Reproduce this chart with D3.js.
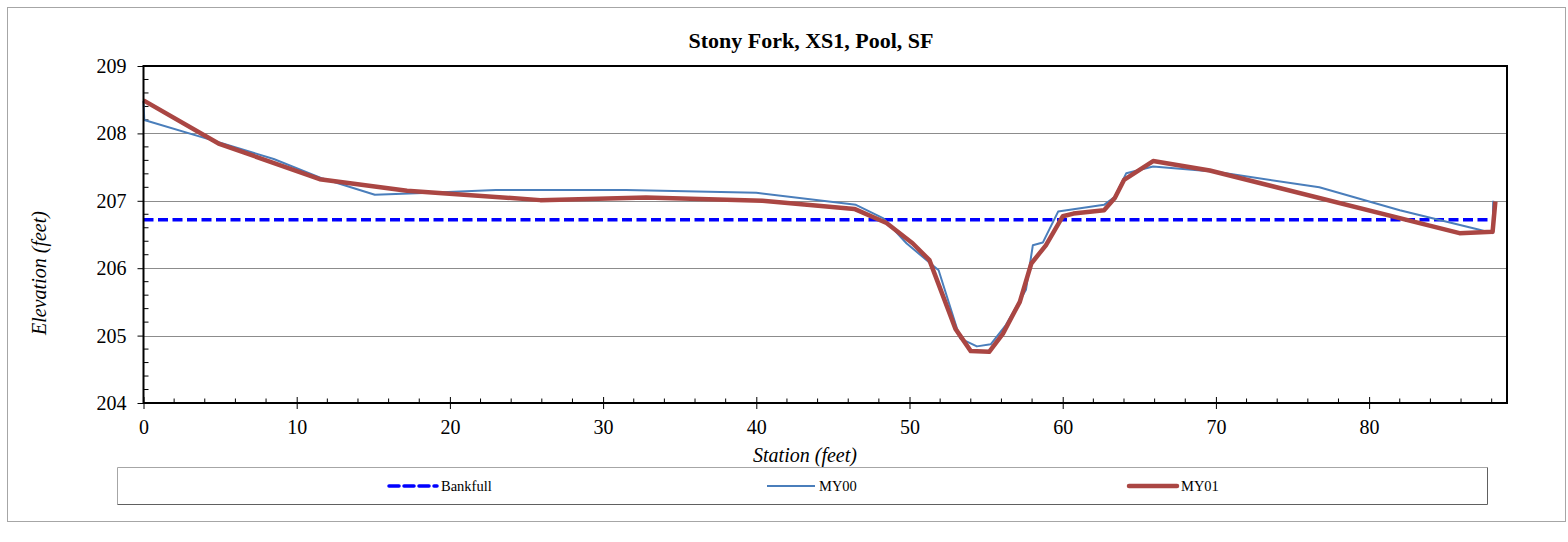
<!DOCTYPE html>
<html>
<head>
<meta charset="utf-8">
<script src="https://cdn.jsdelivr.net/npm/d3@7"></script>
<style>
  body { margin: 0; background: #fff; }
  svg { display: block; font-family: "Liberation Serif", "Times New Roman", serif; }
</style>
</head>
<body>
<div id="chart"></div>
<script>
// ---------- data ----------
const chartTitle = 'Stony Fork, XS1, Pool, SF';

const bankfullStation = [0, 88];
const bankfullElev    = [206.72, 206.72];

const my00Station = [0, 0.05, 4.9, 8.5, 11.7, 15.1, 18.7, 23.0, 31.5, 40.0, 46.5, 48.3, 49.8, 51.9,
  53.3, 54.4, 55.3, 56.3, 57.6, 58.05, 58.7, 59.7, 62.7, 63.4, 64.15, 65.9, 70.0, 76.75, 82.0,
  87.2, 88.06, 88.1];
const my00Elev = [208.48, 208.2, 207.87, 207.62, 207.33, 207.09, 207.12, 207.16, 207.16, 207.12,
  206.94, 206.74, 206.37, 205.97, 204.96, 204.84, 204.87, 205.16, 205.68, 206.34, 206.38, 206.84,
  206.94, 207.06, 207.41, 207.51, 207.43, 207.2, 206.86, 206.57, 206.52, 207.0];

const my01Station = [0, 4.9, 11.5, 17.2, 25.9, 32.8, 40.4, 46.4, 48.5, 50.2, 51.3, 53.0, 54.0, 55.2,
  56.1, 57.2, 57.95, 58.9, 60.0, 60.7, 62.7, 63.4, 64.0, 65.9, 69.6, 85.9, 88.06, 88.24];
const my01Elev = [208.49, 207.85, 207.32, 207.15, 207.01, 207.05, 207.0, 206.88, 206.67, 206.37,
  206.12, 205.1, 204.77, 204.76, 205.03, 205.5, 206.07, 206.34, 206.77, 206.81, 206.86, 207.04,
  207.31, 207.59, 207.45, 206.52, 206.54, 206.99];

const xTicks = [0, 10, 20, 30, 40, 50, 60, 70, 80];
const yTicks = [204, 205, 206, 207, 208, 209];
const legendNames = ['Bankfull', 'MY00', 'MY01'];

// ---------- layout ----------
const W = 1568, H = 542;
const plot = { left: 143.5, right: 1507, top: 66, bottom: 403 };

const x = d3.scaleLinear().domain([0, 89]).range([plot.left, plot.right]);
const y = d3.scaleLinear().domain([204, 209]).range([plot.bottom, plot.top]);

const styles = {
  Bankfull: { stroke: '#0000ff', width: 3.5, dash: '10,4.5' },
  MY00:     { stroke: '#4a7ebb', width: 2,   dash: null },
  MY01:     { stroke: '#aa4643', width: 4.5, dash: null }
};

const svg = d3.select('#chart').append('svg')
  .attr('width', W)
  .attr('height', H);

// outer chart border
svg.append('rect')
  .attr('x', 7.5).attr('y', 7.5)
  .attr('width', 1558).attr('height', 514)
  .attr('fill', '#fff')
  .attr('stroke', '#a6a6a6');

// title
svg.append('text')
  .attr('x', 811).attr('y', 48)
  .attr('text-anchor', 'middle')
  .attr('font-size', '22px')
  .attr('font-weight', 'bold')
  .text(chartTitle);

// horizontal gridlines
svg.append('g')
  .selectAll('line')
  .data(yTicks.filter(d => d > 204 && d < 209))
  .join('line')
  .attr('x1', plot.left).attr('x2', plot.right)
  .attr('y1', d => Math.round(y(d)) + 0.5).attr('y2', d => Math.round(y(d)) + 0.5)
  .attr('stroke', '#8c8c8c')
  .attr('stroke-width', 1);

// y axis
const yAxis = svg.append('g')
  .attr('transform', `translate(${plot.left},0)`)
  .call(d3.axisLeft(y).tickValues(yTicks).tickSize(6).tickPadding(11).tickFormat(d3.format('d')));
yAxis.select('.domain').remove();
yAxis.selectAll('line').attr('stroke', '#000');
yAxis.selectAll('text')
  .attr('font-size', '20px')
  .attr('font-family', '"Liberation Serif", "Times New Roman", serif')
  .attr('fill', '#000');

// y minor ticks (inside)
const yMinor = d3.range(204.2, 209, 0.2).filter(v => Math.abs(v - Math.round(v)) > 0.01);
svg.append('g')
  .selectAll('line')
  .data(yMinor)
  .join('line')
  .attr('x1', plot.left).attr('x2', plot.left + 5)
  .attr('y1', d => y(d)).attr('y2', d => y(d))
  .attr('stroke', '#000');

// x axis
const xAxis = svg.append('g')
  .attr('transform', `translate(0,${plot.bottom})`)
  .call(d3.axisBottom(x).tickValues(xTicks).tickSize(6).tickFormat(d3.format('d')));
xAxis.select('.domain').remove();
xAxis.selectAll('line').attr('y1', -6).attr('y2', 6).attr('stroke', '#000');
xAxis.selectAll('text')
  .attr('y', 31).attr('dy', 0)
  .attr('font-size', '20px')
  .attr('font-family', '"Liberation Serif", "Times New Roman", serif')
  .attr('fill', '#000');

// x minor ticks (inside)
const xMinor = d3.range(2, 89, 2).filter(v => v % 10 !== 0);
svg.append('g')
  .selectAll('line')
  .data(xMinor)
  .join('line')
  .attr('x1', d => x(d)).attr('x2', d => x(d))
  .attr('y1', plot.bottom).attr('y2', plot.bottom - 4.5)
  .attr('stroke', '#000');

// axis titles
svg.append('text')
  .attr('x', 805).attr('y', 462)
  .attr('text-anchor', 'middle')
  .attr('font-size', '20px')
  .attr('font-style', 'italic')
  .text('Station (feet)');

svg.append('text')
  .attr('transform', 'translate(46,273) rotate(-90)')
  .attr('text-anchor', 'middle')
  .attr('font-size', '20px')
  .attr('font-style', 'italic')
  .text('Elevation (feet)');

// series
const line = d3.line().x(d => x(d[0])).y(d => y(d[1]));
const series = [
  { name: 'Bankfull', pts: d3.zip(bankfullStation, bankfullElev) },
  { name: 'MY00', pts: d3.zip(my00Station, my00Elev) },
  { name: 'MY01', pts: d3.zip(my01Station, my01Elev) }
];

svg.append('g')
  .selectAll('path')
  .data(series)
  .join('path')
  .attr('d', d => line(d.pts))
  .attr('fill', 'none')
  .attr('stroke', d => styles[d.name].stroke)
  .attr('stroke-width', d => styles[d.name].width)
  .attr('stroke-dasharray', d => styles[d.name].dash)
  .attr('stroke-linejoin', 'round');

// plot frame
svg.append('rect')
  .attr('x', plot.left).attr('y', plot.top)
  .attr('width', plot.right - plot.left).attr('height', plot.bottom - plot.top)
  .attr('fill', 'none')
  .attr('stroke', '#000')
  .attr('stroke-width', 2);

// legend box
const lg = { left: 117.5, top: 467.5, right: 1487.5, bottom: 504.5 };
svg.append('path')
  .attr('d', `M${lg.left},${lg.bottom}V${lg.top}H${lg.right}`)
  .attr('fill', 'none').attr('stroke', '#a6a6a6');
svg.append('path')
  .attr('d', `M${lg.right},${lg.top}V${lg.bottom}H${lg.left}`)
  .attr('fill', 'none').attr('stroke', '#606060');

const legendX = [389, 767, 1129];
const legend = svg.append('g')
  .selectAll('g')
  .data(legendNames)
  .join('g')
  .attr('transform', (d, i) => `translate(${legendX[i]},486)`);

legend.append('line')
  .attr('x1', 0).attr('x2', 48)
  .attr('stroke', d => styles[d].stroke)
  .attr('stroke-width', d => styles[d].width)
  .attr('stroke-dasharray', d => d === 'Bankfull' ? '10,5' : null)
  .attr('stroke-linecap', d => d === 'MY00' ? 'butt' : 'round');

legend.append('text')
  .attr('x', 52).attr('y', 5)
  .attr('font-size', '14.5px')
  .text(d => d);
</script>
</body>
</html>
